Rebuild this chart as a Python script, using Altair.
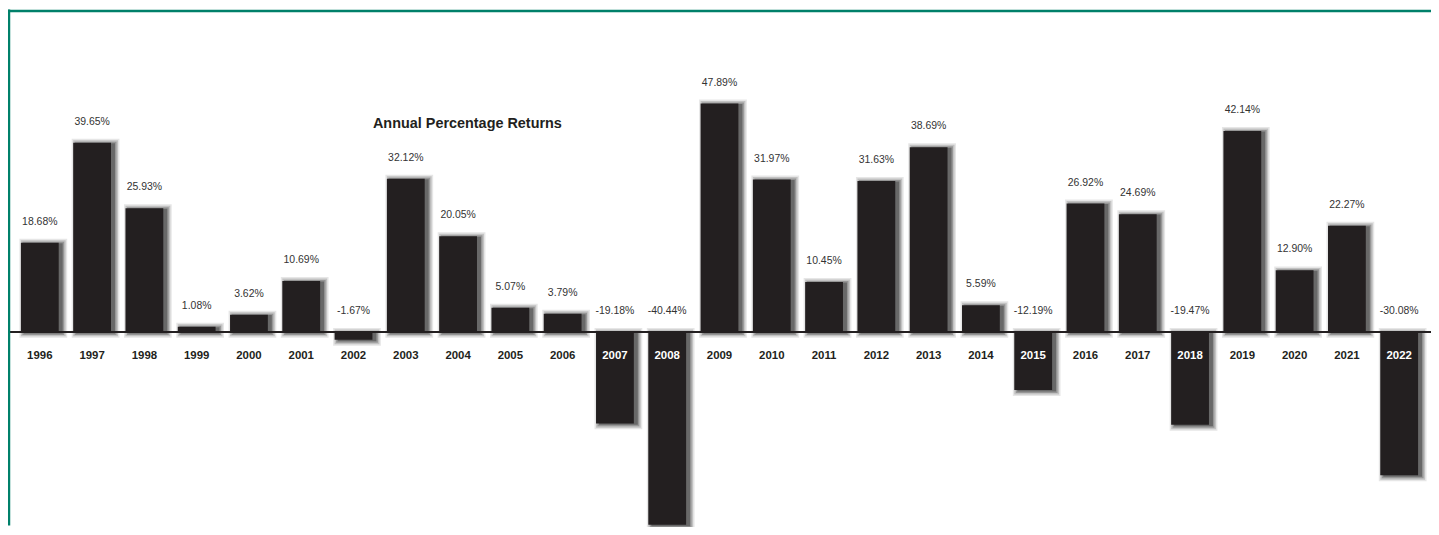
import altair as alt
import pandas as pd

years = ["1996", "1997", "1998", "1999", "2000", "2001", "2002", "2003", "2004",
         "2005", "2006", "2007", "2008", "2009", "2010", "2011", "2012", "2013",
         "2014", "2015", "2016", "2017", "2018", "2019", "2020", "2021", "2022"]
returns = [18.68, 39.65, 25.93, 1.08, 3.62, 10.69, -1.67, 32.12, 20.05,
           5.07, 3.79, -19.18, -40.44, 47.89, 31.97, 10.45, 31.63, 38.69,
           5.59, -12.19, 26.92, 24.69, -19.47, 42.14, 12.90, 22.27, -30.08]
title_text = "Annual Percentage Returns"

W, H = 1431, 519
BAR = "#231f20"
FRAME = "#00806a"

df = pd.DataFrame({"year": years, "ret": returns})
df["label"] = [f"{v:.2f}%" for v in returns]

base = alt.Chart(df).transform_calculate(
    top="max(datum.ret, 0)",
    bot="min(datum.ret, 0)",
    zero="0",
)

xenc = alt.X("year:N", sort=None, axis=None,
             scale=alt.Scale(paddingInner=0.277, paddingOuter=0.247))
yscale = alt.Scale(domain=[-40.6, 67.6], nice=False, zero=False)

layers = []
for e, op in [(0.5, 0.45), (2.0, 0.3), (3.5, 0.2), (5.0, 0.12)]:
    layers.append(
        base.mark_bar(color="#333333", opacity=op, size=38 + 2 * e,
                      xOffset=3.5, yOffset=-e + 1, y2Offset=e + 1)
        .encode(x=xenc, y=alt.Y("top:Q", scale=yscale, axis=None), y2="bot:Q")
    )

baseline = alt.Chart(pd.DataFrame({"zero": [0]})).mark_rule(
    color=BAR, strokeWidth=2
).encode(y=alt.Y("zero:Q", scale=yscale, axis=None))

bars = base.mark_bar(color=BAR).encode(
    x=xenc, y=alt.Y("top:Q", scale=yscale, axis=None), y2="bot:Q"
)

vals = base.mark_text(font="Liberation Sans", fontSize=10.5, color="#333333",
                      dy=-21).encode(
    x=xenc, y=alt.Y("top:Q", scale=yscale, axis=None), text="label:N"
)

yrs = base.mark_text(font="Liberation Sans", fontSize=11.5, fontWeight="bold",
                     dy=24).encode(
    x=xenc, y=alt.Y("zero:Q", scale=yscale, axis=None), text="year:N",
    color=alt.condition(alt.datum.ret < -5, alt.value("white"), alt.value(BAR)),
)

title = alt.Chart(pd.DataFrame({"t": [title_text]})).mark_text(
    font="Liberation Sans", fontSize=14.5, fontWeight="bold", color=BAR,
    align="center", baseline="middle"
).encode(x=alt.value(462), y=alt.value(115), text="t:N")

dummy = pd.DataFrame({"a": [0]})
frame_top = alt.Chart(dummy).mark_rule(color=FRAME, strokeWidth=2.5).encode(
    x=alt.value(0), x2=alt.value(W), y=alt.value(1.5))
frame_left = alt.Chart(dummy).mark_rule(color=FRAME, strokeWidth=2.5).encode(
    x=alt.value(1), y=alt.value(0), y2=alt.value(H))

chart = alt.layer(
    *layers, baseline, bars, vals, yrs, title, frame_top, frame_left
).properties(
    width=W, height=H, padding=0,
    autosize=alt.AutoSizeParams(type="none"),
).configure_view(stroke=None)

chart.save("out.html", embed_options={"renderer": "svg", "actions": False})
